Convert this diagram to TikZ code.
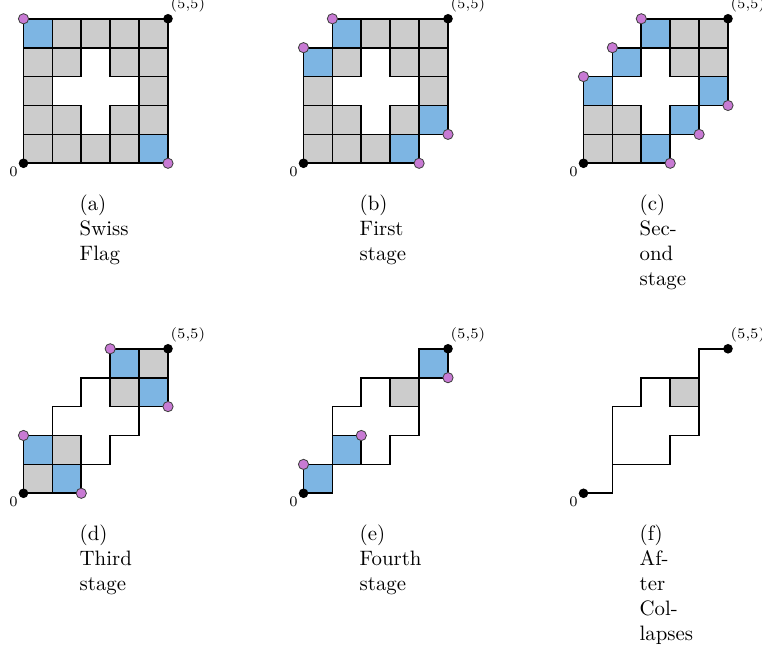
\documentclass[tikz,border=0pt]{standalone}
\definecolor{cellblue}{RGB}{125,181,227}
\definecolor{cellgray}{RGB}{204,204,204}
\definecolor{dotpurple}{RGB}{200,122,212}
\newcommand{\capstack}[1]{\vtop{\baselineskip=12pt\halign{##\hfil\cr#1\crcr}}}
\tikzset{
  gcell/.style={fill=cellgray,draw=black,line width=0.8pt},
  bcell/.style={fill=cellblue,draw=black,line width=0.8pt},
  outl/.style={draw=black,line width=0.8pt,line join=miter},
  pdot/.style={circle,fill=dotpurple,draw=black!75,line width=0.4pt,inner sep=0pt,minimum size=4.9pt},
  bdot/.style={circle,fill=black,inner sep=0pt,minimum size=4.6pt},
  zlab/.style={font=\scriptsize,inner sep=0pt},
  tlab/.style={font=\scriptsize,inner sep=0pt,anchor=base west},
  captext/.style={anchor=base west,inner sep=0pt}
}
\begin{document}
\begin{tikzpicture}[x=13.87pt,y=13.87pt]
\useasboundingbox (0,0) rectangle (26.367,22.595);
% ---------- (a)
\begin{scope}[shift={(0.813,16.945)}]
  \foreach \i/\j in {1/4,2/4,3/4,4/4,0/3,1/3,3/3,4/3,0/2,4/2,0/1,1/1,3/1,4/1,0/0,1/0,2/0,3/0}
    \draw[gcell] (\i,\j) rectangle ++(1,1);
  \foreach \i/\j in {0/4,4/0} \draw[bcell] (\i,\j) rectangle ++(1,1);
  \node[pdot] (a-p1) at (0,5) {};
  \node[pdot] (a-p2) at (5,0) {};
  \node[bdot] (a-o) at (0,0) {};
  \node[bdot] (a-t) at (5,5) {};
  \node[zlab] (a-ol) at (-0.346,-0.311) {0};
  \node[tlab] (a-tl) at (5.08,5.34) {(5,5)};
  \node[captext] (a-cap) at (1.93,-1.637) {\capstack{(a)\cr Swiss\cr Flag}};
\end{scope}
% ---------- (b)
\begin{scope}[shift={(10.502,16.945)}]
  \foreach \i/\j in {2/4,3/4,4/4,1/3,3/3,4/3,0/2,4/2,0/1,1/1,3/1,0/0,1/0,2/0}
    \draw[gcell] (\i,\j) rectangle ++(1,1);
  \foreach \i/\j in {1/4,0/3,4/1,3/0} \draw[bcell] (\i,\j) rectangle ++(1,1);
  \node[pdot] (b-p1) at (1,5) {};
  \node[pdot] (b-p2) at (0,4) {};
  \node[pdot] (b-p3) at (5,1) {};
  \node[pdot] (b-p4) at (4,0) {};
  \node[bdot] (b-o) at (0,0) {};
  \node[bdot] (b-t) at (5,5) {};
  \node[zlab] (b-ol) at (-0.346,-0.311) {0};
  \node[tlab] (b-tl) at (5.08,5.34) {(5,5)};
  \node[captext] (b-cap) at (1.93,-1.637) {\capstack{(b)\cr First\cr stage}};
\end{scope}
% ---------- (c)
\begin{scope}[shift={(20.19,16.945)}]
  \foreach \i/\j in {3/4,4/4,3/3,4/3,0/1,1/1,0/0,1/0}
    \draw[gcell] (\i,\j) rectangle ++(1,1);
  \foreach \i/\j in {2/4,1/3,0/2,4/2,3/1,2/0} \draw[bcell] (\i,\j) rectangle ++(1,1);
  \node[pdot] (c-p1) at (2,5) {};
  \node[pdot] (c-p2) at (1,4) {};
  \node[pdot] (c-p3) at (0,3) {};
  \node[pdot] (c-p4) at (5,2) {};
  \node[pdot] (c-p5) at (4,1) {};
  \node[pdot] (c-p6) at (3,0) {};
  \node[bdot] (c-o) at (0,0) {};
  \node[bdot] (c-t) at (5,5) {};
  \node[zlab] (c-ol) at (-0.346,-0.311) {0};
  \node[tlab] (c-tl) at (5.08,5.34) {(5,5)};
  \node[captext] (c-cap) at (1.93,-1.637) {\capstack{(c)\cr Sec-\cr ond\cr stage}};
\end{scope}
% ---------- (d)
\begin{scope}[shift={(0.813,5.526)}]
  \draw[outl] (1,2) -- (1,3) -- (2,3) -- (2,4) -- (3,4);
  \draw[outl] (2,1) -- (3,1) -- (3,2) -- (4,2) -- (4,3);
  \foreach \i/\j in {4/4,3/3,1/1,0/0}
    \draw[gcell] (\i,\j) rectangle ++(1,1);
  \foreach \i/\j in {3/4,4/3,0/1,1/0} \draw[bcell] (\i,\j) rectangle ++(1,1);
  \node[pdot] (d-p1) at (3,5) {};
  \node[pdot] (d-p2) at (5,3) {};
  \node[pdot] (d-p3) at (0,2) {};
  \node[pdot] (d-p4) at (2,0) {};
  \node[bdot] (d-o) at (0,0) {};
  \node[bdot] (d-t) at (5,5) {};
  \node[zlab] (d-ol) at (-0.346,-0.311) {0};
  \node[tlab] (d-tl) at (5.08,5.34) {(5,5)};
  \node[captext] (d-cap) at (1.93,-1.637) {\capstack{(d)\cr Third\cr stage}};
\end{scope}
% ---------- (e)
\begin{scope}[shift={(10.502,5.526)}]
  \draw[outl] (1,2) -- (1,3) -- (2,3) -- (2,4) -- (3,4);
  \draw[outl] (2,1) -- (3,1) -- (3,2) -- (4,2) -- (4,3);
  \draw[gcell] (3,3) rectangle ++(1,1);
  \foreach \i/\j in {4/4,1/1,0/0} \draw[bcell] (\i,\j) rectangle ++(1,1);
  \node[pdot] (e-p1) at (0,1) {};
  \node[pdot] (e-p2) at (2,2) {};
  \node[pdot] (e-p3) at (5,4) {};
  \node[bdot] (e-o) at (0,0) {};
  \node[bdot] (e-t) at (5,5) {};
  \node[zlab] (e-ol) at (-0.346,-0.311) {0};
  \node[tlab] (e-tl) at (5.08,5.34) {(5,5)};
  \node[captext] (e-cap) at (1.93,-1.637) {\capstack{(e)\cr Fourth\cr stage}};
\end{scope}
% ---------- (f)
\begin{scope}[shift={(20.19,5.526)}]
  \draw[gcell] (3,3) rectangle ++(1,1);
  \coordinate (f-a) at (0,0);
  \coordinate (f-b) at (5,5);
  \draw[outl] (f-a) -- (1,0) -- (1,3) -- (2,3) -- (2,4) -- (3,4);
  \draw[outl] (1,1) -- (3,1) -- (3,2) -- (4,2) -- (4,5) -- (f-b);
  \node[bdot] (f-o) at (f-a) {};
  \node[bdot] (f-t) at (f-b) {};
  \node[zlab] (f-ol) at (-0.346,-0.311) {0};
  \node[tlab] (f-tl) at (5.08,5.34) {(5,5)};
  \node[captext] (f-cap) at (1.93,-1.637) {\capstack{(f)\cr Af-\cr ter\cr Col-\cr lapses}};
\end{scope}
\end{tikzpicture}
\end{document}
